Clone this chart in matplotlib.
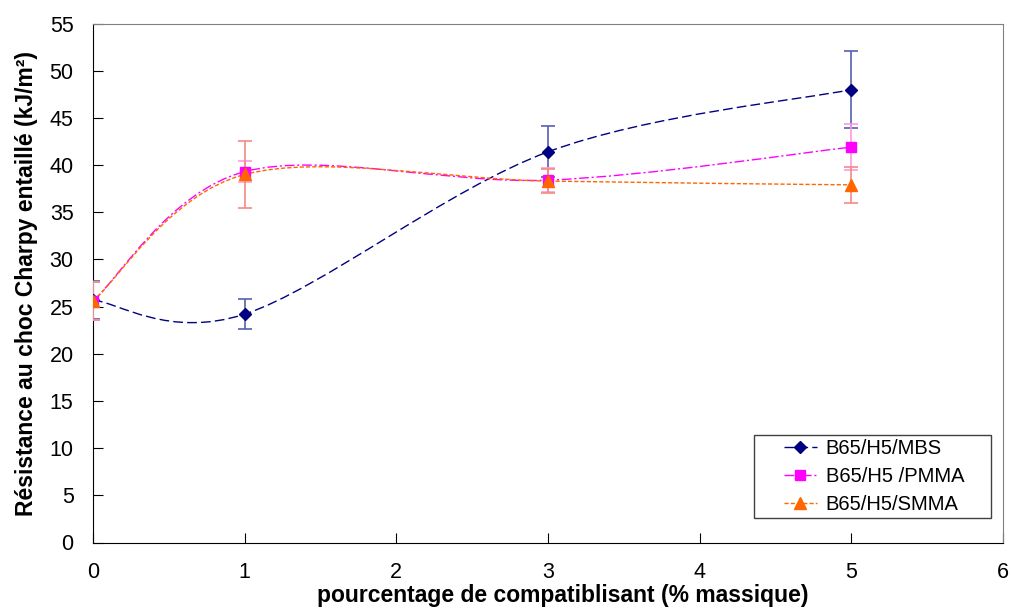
import numpy as np
import matplotlib
matplotlib.use("Agg")
import matplotlib.pyplot as plt
from matplotlib.path import Path
from matplotlib.patches import PathPatch, Rectangle
from matplotlib.lines import Line2D

plt.rcParams["font.family"] = ["Liberation Sans", "DejaVu Sans"]

# data
x = [0, 1, 3, 5]
mbs = [25.7, 24.2, 41.4, 48.0]
mbs_err = [2.0, 1.6, 2.7, 4.1]
pmma = [25.6, 39.3, 38.4, 41.9]
pmma_err = [2.0, 1.1, 1.3, 2.4]
smma = [25.6, 39.0, 38.3, 37.9]
smma_err = [2.0, 3.5, 1.3, 1.9]
labels = ["B65/H5/MBS", "B65/H5 /PMMA", "B65/H5/SMMA"]

NAVY, MAGENTA, ORANGE = "#000080", "#FF00FF", "#FF6600"


def smooth_path(xs, ys):
    """Excel-like smoothed line: Catmull-Rom converted to cubic Bezier."""
    p = np.column_stack([xs, ys]).astype(float)
    verts, codes = [p[0]], [Path.MOVETO]
    n = len(p)
    for i in range(n - 1):
        prev = p[i - 1] if i > 0 else p[i]
        nxt = p[i + 2] if i + 2 < n else p[i + 1]
        c1 = p[i] + (p[i + 1] - prev) / 6
        c2 = p[i + 1] - (nxt - p[i]) / 6
        verts += [c1, c2, p[i + 1]]
        codes += [Path.CURVE4] * 3
    return Path(verts, codes)


fig = plt.figure(figsize=(10.11, 6.15), dpi=100)
ax = fig.add_axes([93 / 1011, 1 - 542.5 / 615, 910 / 1011, 519 / 615])

series = [
    (mbs, mbs_err, NAVY, "#5560B0", "D", 6, (0, (7, 3))),
    (pmma, pmma_err, MAGENTA, "#FF99DD", "s", 7, (0, (7, 2, 1.5, 2))),
    (smma, smma_err, ORANGE, "#F58A80", "^", 8, (0, (3, 1.5))),
]
handles = []
for (ys, err, c, ec, m, ms, ls), lab in zip(series, labels):
    ax.add_patch(PathPatch(smooth_path(x, ys), fill=False, edgecolor=c,
                           lw=1.0, linestyle=ls, zorder=2))
    ax.errorbar(x, ys, yerr=err, fmt="none", ecolor=ec, elinewidth=1.2,
                capsize=5, capthick=1.2, zorder=3)
    ax.plot(x, ys, linestyle="none", marker=m, ms=ms, color=c, zorder=4)
    handles.append(Line2D([], [], color=c, lw=1.0, linestyle=ls, marker=m, ms=ms))

ax.set_xlim(0, 6)
ax.set_ylim(0, 55)
ax.set_xticks(range(0, 7))
ax.set_yticks(range(0, 56, 5))
ax.tick_params(direction="in", length=7, labelsize=15.5, pad=14)
for s in ["top", "right"]:
    ax.spines[s].set_color("#808080")

ax.set_xlabel("pourcentage de compatiblisant (% massique)", fontsize=16.5,
              fontweight="bold", labelpad=1)
ax.xaxis.label.set_x(0.5165)
ax.set_ylabel("Résistance au choc Charpy entaillé (kJ/m²)", fontsize=16.5,
              fontweight="bold", labelpad=8)

# legend box drawn separately (wide side padding, tight top/bottom as in Excel)
ax.add_patch(Rectangle((0.7264, 0.0472), 0.2604, 0.160, transform=ax.transAxes,
                       fill=True, facecolor="white", edgecolor="#404040",
                       lw=1.0, zorder=5))
leg = ax.legend(handles, labels, loc="center", bbox_to_anchor=(0.8585, 0.127),
                fontsize=14.5, frameon=False, handlelength=1.6,
                borderpad=0.0, labelspacing=0.45, handletextpad=0.45)
leg.set_zorder(6)

fig.savefig("out.png", dpi=100)
